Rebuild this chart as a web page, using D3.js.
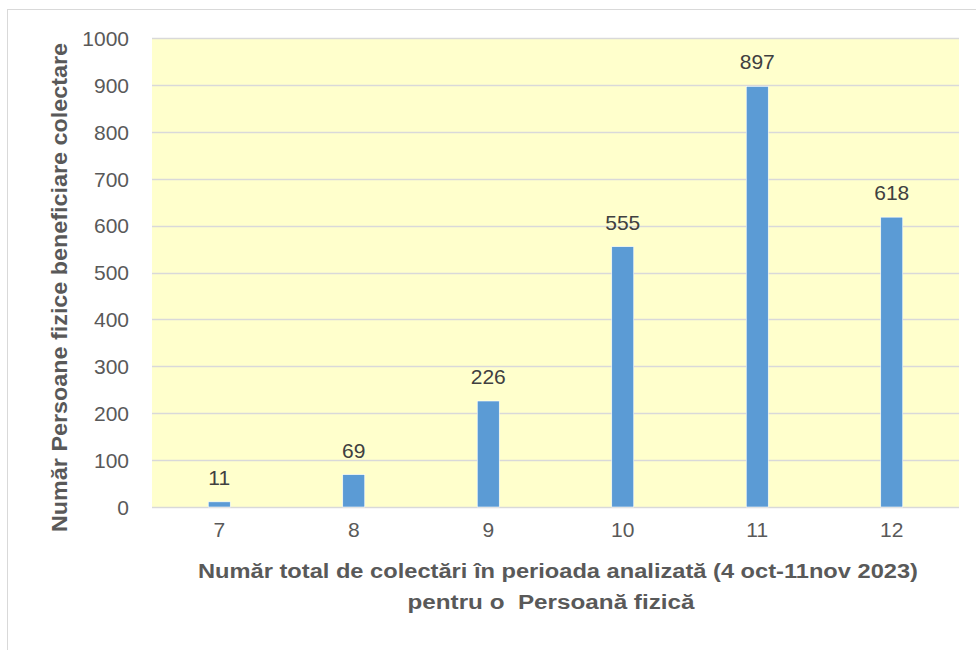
<!DOCTYPE html>
<html>
<head>
<meta charset="utf-8">
<script src="https://cdn.jsdelivr.net/npm/d3@7"></script>
<style>
  html, body { margin: 0; padding: 0; background: #ffffff; }
  svg { display: block; }
  text.pre { white-space: pre; }
</style>
</head>
<body>
<svg id="chart" width="976" height="650"></svg>
<script>
const categories = ["7", "8", "9", "10", "11", "12"];
const values = [11, 69, 226, 555, 897, 618];
const yTicks = [0, 100, 200, 300, 400, 500, 600, 700, 800, 900, 1000];
const yTitle = "Număr Persoane fizice beneficiare colectare";
const xTitleLines = ["Număr total de colectări în perioada analizată (4 oct-11nov 2023)", "pentru o  Persoană fizică"];

const svg = d3.select("#chart");
const font = "'Liberation Sans', Arial, sans-serif";

// outer chart border
svg.append("rect")
  .attr("x", 7.5).attr("y", 9.5)
  .attr("width", 1000).attr("height", 700)
  .attr("fill", "#fff").attr("stroke", "#D9D9D9").attr("stroke-width", 1);

const plot = { left: 152, right: 959, top: 38, bottom: 507 };

const x = d3.scaleBand().domain(categories).range([plot.left, plot.right]).paddingInner(0).paddingOuter(0);
const y = d3.scaleLinear().domain([0, 1000]).range([plot.bottom, plot.top]);

// plot background
svg.append("rect")
  .attr("x", plot.left).attr("y", plot.top)
  .attr("width", plot.right - plot.left).attr("height", plot.bottom - plot.top)
  .attr("fill", "#FFFFCC");

// gridlines
svg.append("g").selectAll("line").data(yTicks).join("line")
  .attr("x1", plot.left).attr("x2", plot.right)
  .attr("y1", d => Math.round(y(d)) + 0.5).attr("y2", d => Math.round(y(d)) + 0.5)
  .attr("stroke", "#D9D9D9").attr("stroke-width", 1.5);

// y axis labels
const yAxis = d3.axisLeft(y).tickValues(yTicks).tickSize(0).tickPadding(0).tickFormat(d3.format("d"));
const gy = svg.append("g").attr("transform", `translate(${plot.left - 23},0)`).call(yAxis);
gy.select(".domain").remove();
gy.selectAll("text").attr("font-family", font).attr("font-size", 21).attr("fill", "#595959").attr("dy", "0.35em");

// x axis labels
const xAxis = d3.axisBottom(x).tickSize(0).tickPadding(0);
const gx = svg.append("g").attr("transform", `translate(0,${plot.bottom + 23})`).call(xAxis);
gx.select(".domain").remove();
gx.selectAll("text").attr("font-family", font).attr("font-size", 21).attr("fill", "#595959").attr("dy", "0.35em");

// bars
const barW = 22;
svg.append("g").selectAll("rect").data(values).join("rect")
  .attr("x", (d, i) => x(categories[i]) + x.bandwidth() / 2 - barW / 2)
  .attr("y", d => y(d))
  .attr("width", barW)
  .attr("height", d => y(0) - y(d))
  .attr("fill", "#5B9BD5")
  .attr("stroke", "#ffffff").attr("stroke-width", 0.6);

// data labels
svg.append("g").selectAll("text").data(values).join("text")
  .attr("x", (d, i) => x(categories[i]) + x.bandwidth() / 2)
  .attr("y", d => y(d) - 17)
  .attr("text-anchor", "middle")
  .attr("font-family", font).attr("font-size", 21).attr("fill", "#404040")
  .text(d => d);

// y title
svg.append("text")
  .attr("transform", `translate(67,${(43 + 532) / 2}) rotate(-90)`)
  .attr("text-anchor", "middle")
  .attr("font-family", font).attr("font-size", 22.5).attr("font-weight", "bold").attr("fill", "#595959")
  .attr("textLength", 489).attr("lengthAdjust", "spacingAndGlyphs")
  .text(yTitle);

// x title
const xt = svg.append("g");
xt.append("text")
  .attr("x", 558).attr("y", 578)
  .attr("text-anchor", "middle")
  .attr("font-family", font).attr("font-size", 20).attr("font-weight", "bold").attr("fill", "#595959")
  .attr("textLength", 720).attr("lengthAdjust", "spacingAndGlyphs")
  .text(xTitleLines[0]);
xt.append("text")
  .attr("class", "pre")
  .attr("x", 551).attr("y", 609)
  .attr("text-anchor", "middle")
  .attr("font-family", font).attr("font-size", 20).attr("font-weight", "bold").attr("fill", "#595959")
  .attr("textLength", 287).attr("lengthAdjust", "spacingAndGlyphs")
  .text(xTitleLines[1]);
</script>
</body>
</html>
